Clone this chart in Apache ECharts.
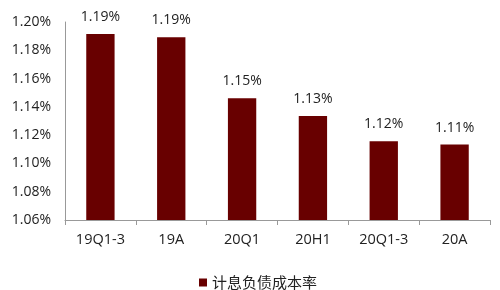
<!DOCTYPE html>
<html><head><meta charset="utf-8">
<script src="https://cdn.jsdelivr.net/npm/echarts@6/dist/echarts.min.js"></script>
<style>html,body{margin:0;padding:0;background:#fff}#c{width:500px;height:290px}</style>
</head><body><div id="c"></div>
<script>
var categories = ['19Q1-3','19A','20Q1','20H1','20Q1-3','20A'];
var values = [1.1915, 1.1892, 1.146, 1.1335, 1.1156, 1.1133];
var seriesName = '计息负债成本率';
var chart = echarts.init(document.getElementById('c'));
chart.setOption({
  animation:false,
  textStyle:{fontFamily:'Open Sans'},
  legend:{top:270, left:194, itemWidth:8, itemHeight:8, icon:'rect', itemGap:4,
    textStyle:{fontFamily:'Noto Sans CJK SC', fontSize:15, color:'#222'}, data:[seriesName]},
  grid:{left:65, right:10, top:22, bottom:70},
  xAxis:{type:'category', data:categories,
    axisLine:{lineStyle:{color:'#999'}},
    axisTick:{show:true, inside:false, length:5, lineStyle:{color:'#999'}},
    axisLabel:{color:'#222', fontSize:14.5, margin:12, fontFamily:'Open Sans'}},
  yAxis:{type:'value', min:1.06, max:1.20, interval:0.02,
    axisLine:{show:true, lineStyle:{color:'#999'}},
    axisTick:{show:false}, splitLine:{show:false},
    axisLabel:{color:'#222', fontSize:14, margin:14, fontFamily:'Open Sans',
      formatter:function(v){return v.toFixed(2)+'%';}}},
  series:[{name:seriesName, type:'bar', data:values, barWidth:'40%',
    itemStyle:{color:'#680000'},
    label:{show:true, position:'top', distance:10, color:'#222', fontSize:14, fontFamily:'Open Sans',
      formatter:function(p){return p.value.toFixed(2)+'%';}}}]
});
</script></body></html>
